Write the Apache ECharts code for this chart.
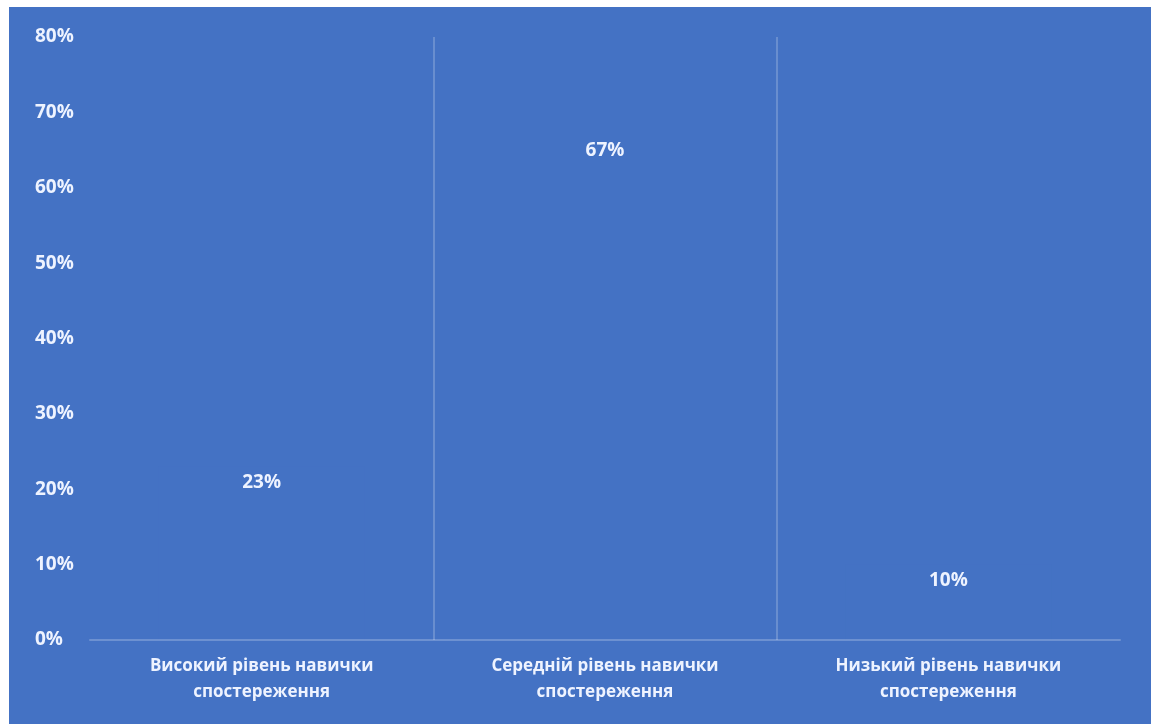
<!DOCTYPE html>
<html>
<head>
<meta charset="utf-8">
<style>
  html, body { margin: 0; padding: 0; background: #ffffff; overflow: hidden; }
  #chart { position: absolute; left: 9px; top: 7px; width: 1142px; height: 717px; }
</style>
<script src="https://cdn.jsdelivr.net/npm/echarts@6/dist/echarts.min.js"></script>
</head>
<body>
<div id="chart"></div>
<script>
// Skill levels of observation (share of respondents, %)
const categories = [
  'Високий рівень навички спостереження',
  'Середній рівень навички спостереження',
  'Низький рівень навички спостереження'
];
const values = [23, 67, 10];
const yMax = 80;
const yStep = 10;

const bg = '#4472C4';
const textColor = '#eef3ff';
const font = '"Open Sans", "Noto Sans", sans-serif';

// Put the last word of a category name on its own line
function twoLines(name) {
  const i = name.lastIndexOf(' ');
  return i > 0 ? name.slice(0, i) + '\n' + name.slice(i + 1) : name;
}

const chart = echarts.init(document.getElementById('chart'));
chart.setOption({
  backgroundColor: bg,
  animation: false,
  grid: { left: 81, right: 31, top: 30, bottom: 84, containLabel: false, outerBoundsMode: 'none' },
  xAxis: {
    type: 'category',
    data: categories,
    z: 5,
    axisLine: { show: true, lineStyle: { color: 'rgba(255,255,255,0.22)', width: 2 } },
    axisTick: { show: false },
    splitLine: {
      show: true,
      showMinLine: false,
      showMaxLine: false,
      lineStyle: { color: 'rgba(255,255,255,0.2)', width: 2 }
    },
    axisLabel: {
      color: textColor,
      fontFamily: font,
      fontWeight: 'bold',
      fontSize: 17,
      lineHeight: 26,
      margin: 13,
      interval: 0,
      formatter: twoLines
    }
  },
  yAxis: {
    type: 'value',
    min: 0,
    max: yMax,
    interval: yStep,
    axisLine: { show: false },
    axisTick: { show: false },
    splitLine: { show: false },
    axisLabel: {
      color: textColor,
      fontFamily: font,
      fontWeight: 'bold',
      fontSize: 19,
      align: 'left',
      margin: 55,
      formatter: '{value}%'
    }
  },
  series: [{
    type: 'bar',
    data: values,
    barWidth: '60%',
    z: 1,
    itemStyle: { color: bg },
    label: {
      show: true,
      position: 'insideTop',
      distance: 6,
      color: textColor,
      fontFamily: font,
      fontWeight: 'bold',
      fontSize: 19,
      formatter: '{c}%'
    }
  }]
});
</script>
</body>
</html>
